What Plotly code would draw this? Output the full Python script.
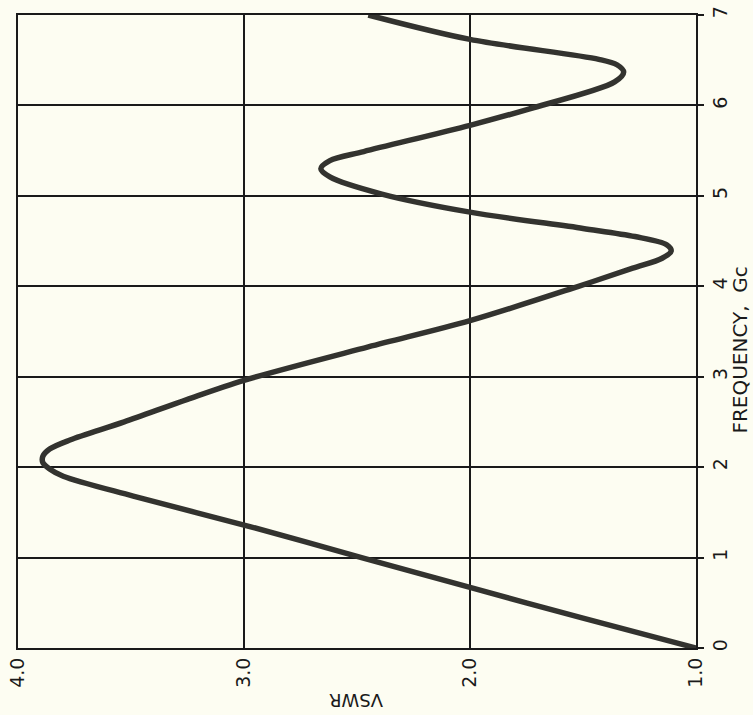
import plotly.graph_objects as go

# Data read from the (rotated) reference chart
frequency_gc = [0.00, 0.33, 0.67, 1.00, 1.34, 1.68, 1.90, 1.98, 2.05, 2.12, 2.20, 2.30,
                2.50, 2.75, 2.96, 3.33, 3.62, 4.00, 4.20, 4.31, 4.39, 4.46, 4.55, 4.64,
                4.82, 5.02, 5.21, 5.30, 5.39, 5.49, 5.78, 5.96, 6.26, 6.37, 6.45, 6.51,
                6.73, 7.00]
vswr = [1.00, 1.50, 2.00, 2.48, 2.97, 3.49, 3.80, 3.86, 3.89, 3.89, 3.86, 3.77,
        3.53, 3.25, 3.00, 2.45, 2.00, 1.52, 1.28, 1.15, 1.11, 1.13, 1.27, 1.50,
        2.00, 2.39, 2.62, 2.66, 2.62, 2.47, 2.00, 1.74, 1.36, 1.32, 1.35, 1.43,
        2.00, 2.45]

vswr_ticks = [4.0, 3.0, 2.0, 1.0]
vswr_tick_labels = ["4.0", "3.0", "2.0", "1.0"]
freq_ticks = [0, 1, 2, 3, 4, 5, 6, 7]
freq_tick_labels = ["0", "1", "2", "3", "4", "5", "6", "7"]

FONT = "DejaVu Sans"
BG = "#fdfdf2"
INK = "#1a1a1a"

fig = go.Figure()
fig.add_trace(go.Scatter(
    x=vswr, y=frequency_gc, mode="lines",
    line=dict(color="#33332f", width=5.5, shape="spline", smoothing=0.9),
    showlegend=False, hoverinfo="skip",
))

fig.update_layout(
    width=753, height=715,
    margin=dict(l=18, r=57, t=15, b=67, autoexpand=False),
    paper_bgcolor=BG, plot_bgcolor=BG,
    font=dict(family=FONT, size=19, color=INK),
    xaxis=dict(
        range=[4.0, 1.0], tickmode="array", tickvals=vswr_ticks, ticktext=vswr_tick_labels,
        tickangle=-90, showgrid=True, gridcolor=INK, gridwidth=1.6,
        showline=True, linecolor=INK, linewidth=2, mirror=True,
        zeroline=False, ticks="", automargin=False, ticklabeloverflow="allow",
        tickfont=dict(family=FONT, size=19, color=INK),
    ),
    yaxis=dict(
        range=[0, 7], side="right", tickmode="array", tickvals=freq_ticks,
        ticktext=freq_tick_labels, tickangle=-90,
        showgrid=True, gridcolor=INK, gridwidth=1.6,
        showline=True, linecolor=INK, linewidth=2, mirror=True,
        zeroline=False, ticks="outside", ticklen=6, tickwidth=1.6, tickcolor=INK,
        automargin=False, ticklabeloverflow="allow",
        tickfont=dict(family=FONT, size=19, color=INK),
    ),
    annotations=[
        dict(text="VSWR", xref="paper", yref="paper", x=0.4985, y=-0.082,
             showarrow=False, textangle=180, font=dict(family=FONT, size=18, color=INK),
             xanchor="center", yanchor="middle"),
        dict(text="FREQUENCY,  Gc", xref="paper", yref="paper", x=1.065, y=0.47,
             showarrow=False, textangle=-90, font=dict(family=FONT, size=20, color=INK),
             xanchor="center", yanchor="middle"),
    ],
)

fig.write_html("out.html", config={"displayModeBar": False},
               post_script="document.body.style.margin='0';")
